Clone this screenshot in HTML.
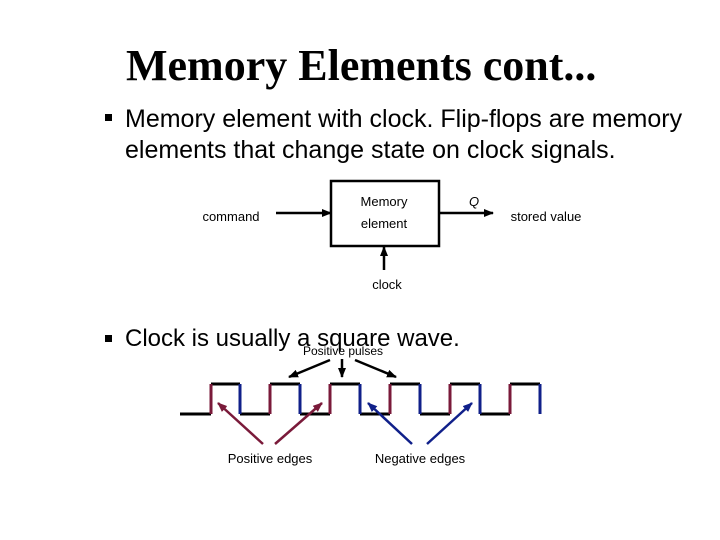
<!DOCTYPE html>
<html><head><style>
body{margin:0;width:720px;height:540px;background:#fff;position:relative;overflow:hidden;font-family:"Liberation Sans",sans-serif}
.t{position:absolute;white-space:nowrap}
.bl{position:absolute;width:7px;height:7px;background:#000}
</style></head><body>
<div class="t" style="left:126px;top:40px;font-family:'Liberation Serif',serif;font-weight:bold;font-size:44px;">Memory Elements cont...</div>
<div class="bl" style="left:105px;top:114px"></div>
<div class="t" style="left:125px;top:104px;font-size:25px;line-height:31px;">Memory element with clock. Flip-flops are memory<br>elements that change state on clock signals.</div>
<div class="bl" style="left:105px;top:335px"></div>
<div class="t" style="left:125px;top:325px;font-size:24px;">Clock is usually a square wave.</div>
<svg width="720" height="540" style="position:absolute;left:0;top:0">
<defs>
<marker id="a" markerUnits="userSpaceOnUse" markerWidth="10" markerHeight="8" refX="9" refY="4" orient="auto"><path d="M0,0L10,4L0,8z" fill="#000"/></marker>
<marker id="r" markerUnits="userSpaceOnUse" markerWidth="10" markerHeight="8" refX="9" refY="4" orient="auto"><path d="M0,0L10,4L0,8z" fill="#7a1a3a"/></marker>
<marker id="b" markerUnits="userSpaceOnUse" markerWidth="10" markerHeight="8" refX="9" refY="4" orient="auto"><path d="M0,0L10,4L0,8z" fill="#10208a"/></marker>
</defs>
<rect x="331" y="181" width="108" height="65" fill="#fff" stroke="#000" stroke-width="2.5"/>
<line x1="276" y1="213" x2="331" y2="213" stroke="#000" stroke-width="2.5" marker-end="url(#a)"/>
<line x1="440" y1="213" x2="493" y2="213" stroke="#000" stroke-width="2.5" marker-end="url(#a)"/>
<line x1="384" y1="270" x2="384" y2="247" stroke="#000" stroke-width="2.5" marker-end="url(#a)"/>
<text x="384" y="206" font-size="13" text-anchor="middle" font-family="Liberation Sans">Memory</text>
<text x="384" y="228" font-size="13" text-anchor="middle" font-family="Liberation Sans">element</text>
<text x="231" y="221" font-size="13" text-anchor="middle" font-family="Liberation Sans">command</text>
<text x="546" y="221" font-size="13" text-anchor="middle" font-family="Liberation Sans">stored value</text>
<text x="469" y="206" font-size="13" font-style="italic" font-family="Liberation Sans">Q</text>
<text x="387" y="289" font-size="13" text-anchor="middle" font-family="Liberation Sans">clock</text>
<text x="343" y="355" font-size="12" text-anchor="middle" font-family="Liberation Sans">Positive pulses</text>
<g stroke-width="3" fill="none">
<path d="M180,414H211M240,414H270M300,414H330M360,414H390M420,414H450M480,414H510M211,384H240M270,384H300M330,384H360M390,384H420M450,384H480M510,384H540" stroke="#000"/>
<path d="M211,414V384M270,414V384M330,414V384M390,414V384M450,414V384M510,414V384" stroke="#7a1a3a"/>
<path d="M240,384V414M300,384V414M360,384V414M420,384V414M480,384V414M540,384V414" stroke="#10208a"/>
</g>
<g stroke-width="2.5">
<line x1="330" y1="360" x2="289" y2="377" stroke="#000" marker-end="url(#a)"/>
<line x1="342" y1="359" x2="342" y2="377" stroke="#000" marker-end="url(#a)"/>
<line x1="355" y1="360" x2="396" y2="377" stroke="#000" marker-end="url(#a)"/>
<line x1="263" y1="444" x2="218" y2="403" stroke="#7a1a3a" marker-end="url(#r)"/>
<line x1="275" y1="444" x2="322" y2="403" stroke="#7a1a3a" marker-end="url(#r)"/>
<line x1="412" y1="444" x2="368" y2="403" stroke="#10208a" marker-end="url(#b)"/>
<line x1="427" y1="444" x2="472" y2="403" stroke="#10208a" marker-end="url(#b)"/>
</g>
<text x="270" y="463" font-size="13" text-anchor="middle" font-family="Liberation Sans">Positive edges</text>
<text x="420" y="463" font-size="13" text-anchor="middle" font-family="Liberation Sans">Negative edges</text>
</svg>
</body></html>
